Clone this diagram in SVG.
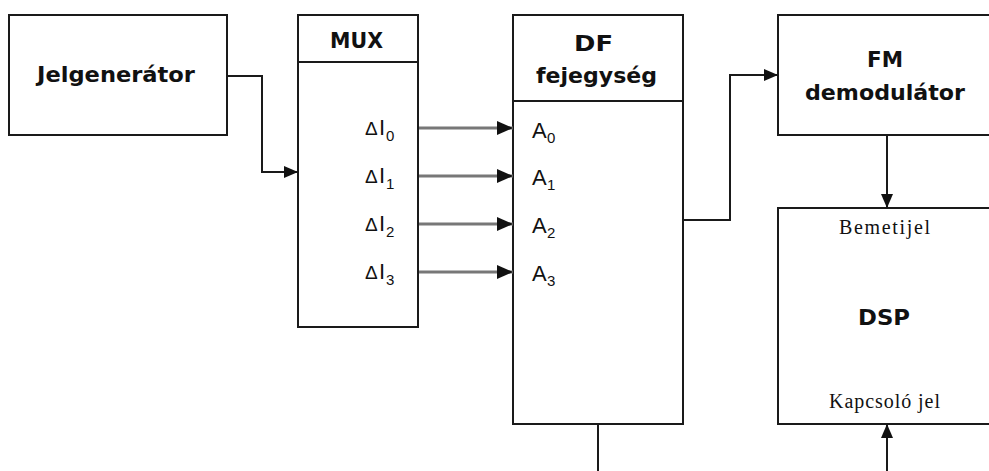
<svg xmlns="http://www.w3.org/2000/svg" width="989" height="471" viewBox="0 0 989 471">
  <style>
    .box { fill: #ffffff; stroke: #1a1a1a; stroke-width: 2; }
    .title { font-family: "DejaVu Sans", "Liberation Sans", sans-serif; font-weight: bold; font-size: 21px; fill: #111111; }
    .lbl { font-family: "Liberation Sans", Arial, sans-serif; fill: #111111; }
    .serif { font-family: "Liberation Serif", "Times New Roman", serif; font-size: 20px; fill: #111111; }
    .wire { fill: none; stroke: #1a1a1a; stroke-width: 2; }
    .bus { fill: none; stroke: #777777; stroke-width: 3; }
  </style>
  <defs>
    <marker id="head" viewBox="0 0 14 12" refX="14" refY="6" markerWidth="14" markerHeight="12" markerUnits="userSpaceOnUse" orient="auto">
      <path d="M0,0 L14,6 L0,12 Z" fill="#111111"/>
    </marker>
    <marker id="headBig" viewBox="0 0 16 14" refX="16" refY="7" markerWidth="16" markerHeight="14" markerUnits="userSpaceOnUse" orient="auto">
      <path d="M0,0 L16,7 L0,14 Z" fill="#111111"/>
    </marker>
  </defs>

  <!-- signal generator -->
  <g id="jelgenerator">
    <rect class="box" x="9" y="15" width="218" height="120"/>
    <text class="title" x="37" y="82" textLength="158" lengthAdjust="spacingAndGlyphs">Jelgenerátor</text>
  </g>

  <!-- multiplexer -->
  <g id="mux">
    <rect class="box" x="298" y="15" width="120" height="312"/>
    <line class="wire" x1="298" y1="62" x2="418" y2="62"/>
    <text class="title" x="330" y="48" textLength="53" lengthAdjust="spacingAndGlyphs">MUX</text>
    <g class="lbl">
      <text x="365" y="135"><tspan font-size="19">Δ</tspan><tspan x="379" font-size="22">I</tspan><tspan x="386" y="141" font-size="15">0</tspan></text>
      <text x="365" y="183"><tspan font-size="19">Δ</tspan><tspan x="379" font-size="22">I</tspan><tspan x="386" y="189" font-size="15">1</tspan></text>
      <text x="365" y="231"><tspan font-size="19">Δ</tspan><tspan x="379" font-size="22">I</tspan><tspan x="386" y="237" font-size="15">2</tspan></text>
      <text x="365" y="279"><tspan font-size="19">Δ</tspan><tspan x="379" font-size="22">I</tspan><tspan x="386" y="285" font-size="15">3</tspan></text>
    </g>
  </g>

  <!-- DF head unit -->
  <g id="df">
    <rect class="box" x="513" y="15" width="170" height="409"/>
    <line class="wire" x1="513" y1="101" x2="683" y2="101"/>
    <text class="title" x="574" y="51" textLength="39" lengthAdjust="spacingAndGlyphs">DF</text>
    <text class="title" x="536" y="83" textLength="121" lengthAdjust="spacingAndGlyphs">fejegység</text>
    <g class="lbl">
      <text x="532" y="138"><tspan font-size="22">A</tspan><tspan x="547" y="143" font-size="15">0</tspan></text>
      <text x="532" y="185"><tspan font-size="22">A</tspan><tspan x="547" y="190" font-size="15">1</tspan></text>
      <text x="532" y="233"><tspan font-size="22">A</tspan><tspan x="547" y="238" font-size="15">2</tspan></text>
      <text x="532" y="281"><tspan font-size="22">A</tspan><tspan x="547" y="286" font-size="15">3</tspan></text>
    </g>
  </g>

  <!-- FM demodulator -->
  <g id="fm">
    <rect class="box" x="778" y="15" width="220" height="120"/>
    <text class="title" x="867" y="67" textLength="36" lengthAdjust="spacingAndGlyphs">FM</text>
    <text class="title" x="805" y="100" textLength="160" lengthAdjust="spacingAndGlyphs">demodulátor</text>
  </g>

  <!-- DSP -->
  <g id="dsp">
    <rect class="box" x="778" y="208" width="220" height="216"/>
    <text class="serif" x="839" y="234" textLength="91" lengthAdjust="spacing">Bemetijel</text>
    <text class="title" x="858" y="325" textLength="52" lengthAdjust="spacingAndGlyphs">DSP</text>
    <text class="serif" x="829" y="408" textLength="111" lengthAdjust="spacing">Kapcsoló jel</text>
  </g>

  <!-- connectors -->
  <g id="connectors">
    <polyline class="wire" points="227,76 262,76 262,172 298,172" marker-end="url(#head)"/>
    <line class="bus" x1="419" y1="128" x2="513" y2="128" marker-end="url(#headBig)"/>
    <line class="bus" x1="419" y1="176" x2="513" y2="176" marker-end="url(#headBig)"/>
    <line class="bus" x1="419" y1="224" x2="513" y2="224" marker-end="url(#headBig)"/>
    <line class="bus" x1="419" y1="272" x2="513" y2="272" marker-end="url(#headBig)"/>
    <polyline class="wire" points="683,220 730,220 730,75 778,75" marker-end="url(#head)"/>
    <line class="wire" x1="887" y1="135" x2="887" y2="208" marker-end="url(#head)"/>
    <line class="wire" x1="598" y1="424" x2="598" y2="471"/>
    <line class="wire" x1="887" y1="471" x2="887" y2="424" marker-end="url(#head)"/>
  </g>
</svg>
